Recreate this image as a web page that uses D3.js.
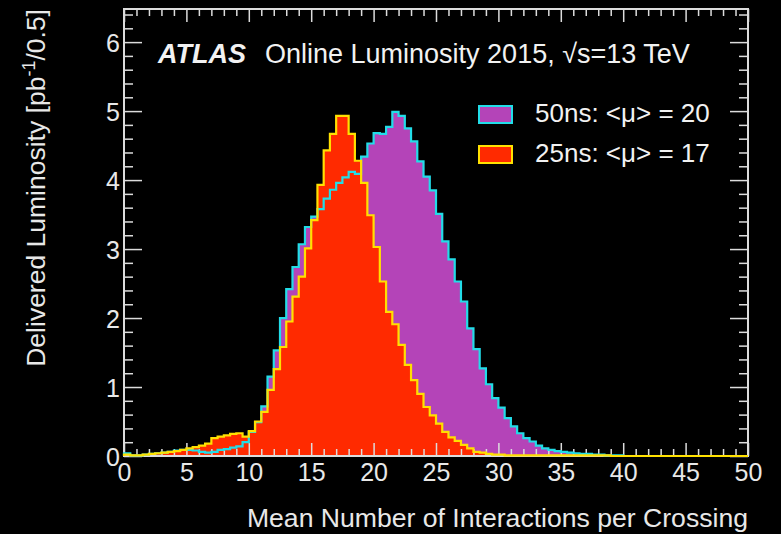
<!DOCTYPE html>
<html>
<head>
<meta charset="utf-8">
<script src="https://cdn.jsdelivr.net/npm/d3@7"></script>
<style>
  html, body { margin: 0; padding: 0; background: #000; }
  svg { display: block; font-family: "Liberation Sans", Arial, Helvetica, sans-serif; }
</style>
</head>
<body>
<svg id="chart" width="781" height="534"></svg>
<script>
// histogram bins are 0.5 wide, from 0 to 50
const binWidth = 0.5;
const xMajorTicks = [0, 5, 10, 15, 20, 25, 30, 35, 40, 45, 50];
const yMajorTicks = [0, 1, 2, 3, 4, 5, 6];

// 50ns bunch spacing, delivered luminosity per bin [pb^-1/0.5]
const lumi50ns = [
    0.04, 0.01, 0.01, 0.02, 0.03, 0.04, 0.05, 0.06, 0.08, 0.09,
    0.09, 0.08, 0.06, 0.05, 0.06, 0.09, 0.10, 0.12, 0.14, 0.20,
    0.35, 0.49, 0.72, 1.15, 1.53, 2.00, 2.42, 2.74, 3.07, 3.32,
    3.47, 3.58, 3.73, 3.86, 3.96, 4.04, 4.12, 4.09, 4.34, 4.53,
    4.68, 4.67, 4.77, 4.99, 4.93, 4.75, 4.56, 4.27, 4.05, 3.85,
    3.51, 3.11, 2.85, 2.53, 2.24, 1.85, 1.55, 1.27, 1.04, 0.84,
    0.70, 0.55, 0.43, 0.33, 0.26, 0.21, 0.15, 0.11, 0.09, 0.07,
    0.06, 0.05, 0.04, 0.03, 0.03, 0.02, 0.02, 0.01, 0.01, 0.01,
    0, 0, 0, 0, 0, 0, 0, 0, 0, 0,
    0, 0, 0, 0, 0, 0, 0, 0, 0, 0
];

// 25ns bunch spacing
const lumi25ns = [
    0.02, 0.01, 0.01, 0.02, 0.03, 0.04, 0.05, 0.06, 0.07, 0.09,
    0.11, 0.13, 0.15, 0.18, 0.26, 0.28, 0.30, 0.32, 0.33, 0.28,
    0.36, 0.50, 0.64, 0.96, 1.26, 1.58, 1.95, 2.31, 2.60, 3.01,
    3.42, 3.93, 4.43, 4.67, 4.93, 4.93, 4.67, 4.28, 3.96, 3.49,
    3.03, 2.53, 2.09, 1.91, 1.61, 1.32, 1.10, 0.90, 0.71, 0.59,
    0.47, 0.35, 0.27, 0.22, 0.16, 0.11, 0.06, 0.05, 0.03, 0.02,
    0.02, 0.01, 0.01, 0.01, 0.01, 0.01, 0.01, 0.01, 0.01, 0.01,
    0.01, 0.01, 0.01, 0.01, 0.01, 0.01, 0.01, 0.01, 0, 0,
    0, 0, 0, 0, 0, 0, 0, 0, 0, 0,
    0, 0, 0, 0, 0, 0, 0, 0, 0, 0
];

const legendLabels = ["50ns: <\u03bc> = 20", "25ns: <\u03bc> = 17"];

const purpleFill = "#b444b8";
const cyanLine = "#22dde8";
const redFill = "#ff2a00";
const yellowLine = "#ffe000";
const frameColor = "#dcdcdc";

const svg = d3.select("#chart");
const margin = {top: 9, right: 33, bottom: 78, left: 124};
const width = 781 - margin.left - margin.right;
const height = 534 - margin.top - margin.bottom;

const x = d3.scaleLinear().domain([0, 50]).range([0, width]);
const y = d3.scaleLinear().domain([0, 6.48]).range([height, 0]);

const plot = svg.append("g")
    .attr("transform", `translate(${margin.left},${margin.top})`);

// turn bin contents into step points, closed down to zero at both ends
function stepPoints(values) {
    const pts = [[0, 0]];
    values.forEach(function (v, i) {
        pts.push([i * binWidth, v]);
        pts.push([(i + 1) * binWidth, v]);
    });
    pts.push([values.length * binWidth, 0]);
    return pts;
}

const area = d3.area()
    .x(d => x(d[0]))
    .y0(y(0))
    .y1(d => y(d[1]));

const line = d3.line()
    .x(d => x(d[0]))
    .y(d => y(d[1]));

const pts50 = stepPoints(lumi50ns);
const pts25 = stepPoints(lumi25ns);

plot.append("path").attr("d", area(pts50)).attr("fill", purpleFill);
plot.append("path").attr("d", area(pts25)).attr("fill", redFill);

// axes: major + minor ticks on all four sides
const xMinor = d3.range(0, 51, 1).filter(v => v % 5 !== 0);
const yMinor = d3.range(0, 6.41, 0.2).filter(v => Math.abs(v - Math.round(v)) > 0.01);

function styleAxis(g) {
    g.select(".domain").remove();
    g.selectAll(".tick line").attr("stroke", frameColor).attr("stroke-width", 1.5);
    g.selectAll(".tick text").attr("fill", "#e8e8e8").style("font-size", "25px")
        .style("font-family", "'Liberation Sans', Arial, sans-serif");
}

plot.append("g").attr("transform", `translate(0,${height})`)
    .call(d3.axisBottom(x).tickValues(xMajorTicks).tickSize(-13).tickPadding(10).tickFormat(d3.format("d")))
    .call(styleAxis)
    .call(g => g.selectAll(".tick text").attr("y", 7).attr("dy", "0.71em"));
plot.append("g").attr("transform", `translate(0,${height})`)
    .call(d3.axisBottom(x).tickValues(xMinor).tickSize(-7).tickFormat(""))
    .call(styleAxis);
plot.append("g")
    .call(d3.axisTop(x).tickValues(xMajorTicks).tickSize(-13).tickFormat(""))
    .call(styleAxis);
plot.append("g")
    .call(d3.axisTop(x).tickValues(xMinor).tickSize(-7).tickFormat(""))
    .call(styleAxis);

plot.append("g")
    .call(d3.axisLeft(y).tickValues(yMajorTicks).tickSize(-18).tickPadding(4).tickFormat(d3.format("d")))
    .call(styleAxis)
    .call(g => g.selectAll(".tick text").attr("x", -4).attr("dy", "0.36em"));
plot.append("g")
    .call(d3.axisLeft(y).tickValues(yMinor).tickSize(-9).tickFormat(""))
    .call(styleAxis);
plot.append("g").attr("transform", `translate(${width},0)`)
    .call(d3.axisRight(y).tickValues(yMajorTicks).tickSize(-18).tickFormat(""))
    .call(styleAxis);
plot.append("g").attr("transform", `translate(${width},0)`)
    .call(d3.axisRight(y).tickValues(yMinor).tickSize(-9).tickFormat(""))
    .call(styleAxis);

// frame
plot.append("rect")
    .attr("width", width)
    .attr("height", height)
    .attr("fill", "none")
    .attr("stroke", frameColor)
    .attr("stroke-width", 2);

// outlines on top
plot.append("path").attr("d", line(pts50))
    .attr("fill", "none").attr("stroke", cyanLine).attr("stroke-width", 2.2);
plot.append("path").attr("d", line(pts25))
    .attr("fill", "none").attr("stroke", yellowLine).attr("stroke-width", 2.2);

// ATLAS label
const atlas = svg.append("text")
    .attr("x", 158)
    .attr("y", 63)
    .attr("fill", "#f2f2f2")
    .style("font-size", "27px");
atlas.append("tspan")
    .style("font-weight", "bold")
    .style("font-style", "italic")
    .text("ATLAS");
atlas.append("tspan")
    .attr("dx", 19)
    .text("Online Luminosity 2015, \u221as=13 TeV");

// legend
const legend = svg.append("g");
const legendRows = [
    {label: legendLabels[0], fill: purpleFill, stroke: cyanLine, y: 106},
    {label: legendLabels[1], fill: redFill, stroke: yellowLine, y: 146}
];
legend.selectAll("rect")
    .data(legendRows)
    .enter().append("rect")
    .attr("x", 479)
    .attr("y", d => d.y)
    .attr("width", 33)
    .attr("height", 17)
    .attr("fill", d => d.fill)
    .attr("stroke", d => d.stroke)
    .attr("stroke-width", 2);
legend.selectAll("text")
    .data(legendRows)
    .enter().append("text")
    .attr("x", 535)
    .attr("y", d => d.y + 16)
    .attr("fill", "#f2f2f2")
    .style("font-size", "26px")
    .text(d => d.label);

// axis titles
svg.append("text")
    .attr("x", 748)
    .attr("y", 527)
    .attr("text-anchor", "end")
    .attr("fill", "#e8e8e8")
    .style("font-size", "26.6px")
    .text("Mean Number of Interactions per Crossing");

const yTitle = svg.append("text")
    .attr("transform", "translate(45,9) rotate(-90)")
    .attr("text-anchor", "end")
    .attr("fill", "#e8e8e8")
    .style("font-size", "26.5px");
yTitle.append("tspan").text("Delivered Luminosity [pb");
yTitle.append("tspan").attr("dy", -10).style("font-size", "18px").text("-1");
yTitle.append("tspan").attr("dy", 10).text("/0.5]");
</script>
</body>
</html>
